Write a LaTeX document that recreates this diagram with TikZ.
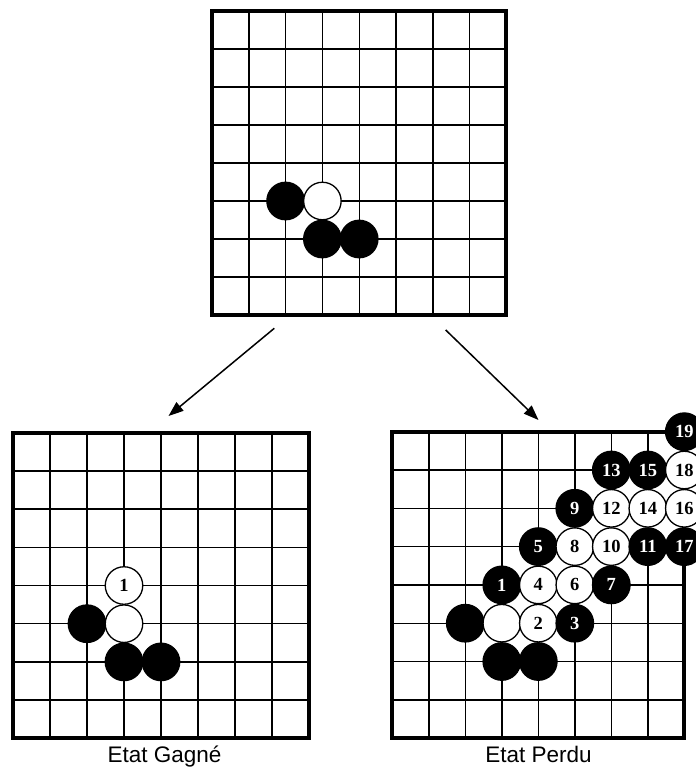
\documentclass[tikz,border=0pt]{standalone}
\usepackage{fontspec}
\setmainfont{Liberation Serif}
\setsansfont{Liberation Sans}
\usetikzlibrary{arrows.meta}
\tikzset{
  gridline/.style={line width=1.4pt},
  border/.style={line width=4pt, line join=miter},
  stonebase/.style={circle, minimum size=37.5pt, inner sep=0pt, line width=1.3pt,
     font=\fontsize{18.5}{18.5}\selectfont\bfseries},
  bstone/.style={stonebase, draw=black, fill=black, text=white},
  wstone/.style={stonebase, draw=black, fill=white, text=black},
  arrowline/.style={line width=1.5pt, -{Triangle[length=15pt,width=11pt]}},
  caption/.style={anchor=base, font=\sffamily\fontsize{22.5}{25}\selectfont}
}
\newcommand{\goboard}{%
  \foreach \k in {1,...,7} {
    \draw[gridline] (\k,0) -- (\k,8);
    \draw[gridline] (0,\k) -- (8,\k);
  }
  \draw[border] (0,0) rectangle (8,8);
}
\begin{document}
\begin{tikzpicture}[x=1pt,y=-1pt]
\useasboundingbox (0,0) rectangle (696,771);
\fill[white] (0,0) rectangle (696,771);

% top board
\begin{scope}[shift={(212,11)}, x=36.8pt, y=-38pt]
  \goboard
  \node[bstone] (ta) at (2,5) {};
  \node[wstone] (tb) at (3,5) {};
  \node[bstone] (tc) at (3,6) {};
  \node[bstone] (td) at (4,6) {};
\end{scope}

% bottom-left board
\begin{scope}[shift={(13,432.7)}, x=37pt, y=-38.2pt]
  \goboard
  \node[bstone] (la) at (2,5) {};
  \node[wstone] (lb) at (3,5) {};
  \node[bstone] (lc) at (3,6) {};
  \node[bstone] (ld) at (4,6) {};
  \node[wstone] (l1) at (3,4) {1};
\end{scope}

% bottom-right board
\begin{scope}[shift={(392.3,431.7)}, x=36.5pt, y=-38.3pt]
  \goboard
  \node[bstone] (ra) at (2,5) {};
  \node[wstone] (rb) at (3,5) {};
  \node[bstone] (rc) at (3,6) {};
  \node[bstone] (rd) at (4,6) {};
  \node[bstone] (r1) at (3,4) {1};
  \node[wstone] (r2) at (4,5) {2};
  \node[bstone] (r3) at (5,5) {3};
  \node[wstone] (r4) at (4,4) {4};
  \node[bstone] (r5) at (4,3) {5};
  \node[wstone] (r6) at (5,4) {6};
  \node[bstone] (r7) at (6,4) {7};
  \node[wstone] (r8) at (5,3) {8};
  \node[bstone] (r9) at (5,2) {9};
  \node[wstone] (r10) at (6,3) {10};
  \node[bstone] (r11) at (7,3) {11};
  \node[wstone] (r12) at (6,2) {12};
  \node[bstone] (r13) at (6,1) {13};
  \node[wstone] (r14) at (7,2) {14};
  \node[bstone] (r15) at (7,1) {15};
  \node[wstone] (r16) at (8,2) {16};
  \node[bstone] (r17) at (8,3) {17};
  \node[wstone] (r18) at (8,1) {18};
  \node[bstone] (r19) at (8,0) {19};
\end{scope}

% arrows
\coordinate (a1s) at (274.3,328.3);
\coordinate (a1e) at (168.5,416);
\coordinate (a2s) at (445.7,330);
\coordinate (a2e) at (538.5,420);
\draw[arrowline] (a1s) -- (a1e);
\draw[arrowline] (a2s) -- (a2e);

% captions
\node[caption] (cg) at (164.5,762.5) {Etat Gagné};
\node[caption] (cp) at (538.5,762.5) {Etat Perdu};
\end{tikzpicture}
\end{document}
